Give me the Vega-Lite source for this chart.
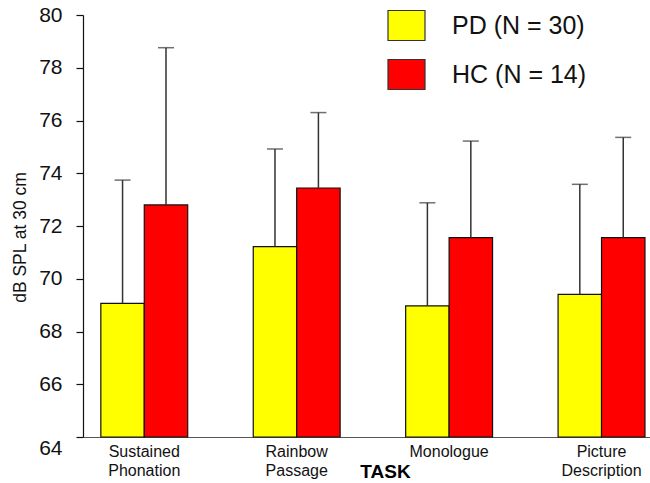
{
  "$schema": "https://vega.github.io/schema/vega-lite/v6.json",
  "autosize": "none",
  "padding": {"left": 83, "top": 15, "right": 0, "bottom": 46},
  "width": 567,
  "height": 422,
  "background": "white",
  "config": {
    "view": {"stroke": null},
    "font": "Liberation Sans"
  },
  "data": {
    "values": [
      {"task": "Sustained Phonation", "group": "PD (N = 30)", "mean": 69.07, "upper": 73.74},
      {"task": "Sustained Phonation", "group": "HC (N = 14)", "mean": 72.80, "upper": 78.76},
      {"task": "Rainbow Passage", "group": "PD (N = 30)", "mean": 71.22, "upper": 74.92},
      {"task": "Rainbow Passage", "group": "HC (N = 14)", "mean": 73.44, "upper": 76.30},
      {"task": "Monologue", "group": "PD (N = 30)", "mean": 68.97, "upper": 72.88},
      {"task": "Monologue", "group": "HC (N = 14)", "mean": 71.56, "upper": 75.22},
      {"task": "Picture Description", "group": "PD (N = 30)", "mean": 69.41, "upper": 73.58},
      {"task": "Picture Description", "group": "HC (N = 14)", "mean": 71.56, "upper": 75.36}
    ]
  },
  "encoding": {
    "x": {
      "field": "task",
      "type": "nominal",
      "sort": ["Sustained Phonation", "Rainbow Passage", "Monologue", "Picture Description"],
      "scale": {"paddingInner": 0.43, "paddingOuter": 0.075, "align": 0.78},
      "axis": {
        "title": "TASK",
        "titleFont": "Liberation Sans",
        "titleFontSize": 19,
        "titleFontWeight": "bold",
        "titleColor": "black",
        "titleX": 302,
        "titleY": 40,
        "titleAlign": "center",
        "titleBaseline": "alphabetic",
        "labelAngle": 0,
        "labelAlign": "center",
        "labelBaseline": "top",
        "labelFont": "Liberation Sans",
        "labelFontSize": 16,
        "labelLineHeight": 19,
        "labelColor": "#111",
        "labelPadding": 6,
        "labelExpr": "split(datum.label, ' ')",
        "ticks": false,
        "domainColor": "#555",
        "domainWidth": 1.2,
        "grid": false
      }
    },
    "xOffset": {
      "field": "group",
      "type": "nominal",
      "sort": ["PD (N = 30)", "HC (N = 14)"],
      "scale": {"paddingInner": 0, "paddingOuter": 0}
    }
  },
  "layer": [
    {
      "mark": {"type": "bar", "stroke": "#111", "strokeWidth": 1.2},
      "encoding": {
        "y": {
          "field": "mean",
          "type": "quantitative",
          "scale": {"domain": [64, 80], "nice": false, "zero": false},
          "axis": {
            "title": "dB SPL at 30 cm",
            "titleFont": "Liberation Sans",
            "titleFontSize": 17.5,
            "titleFontWeight": "normal",
            "titleColor": "#111",
            "titleX": -63,
            "titleY": 222,
            "titleAlign": "center",
            "titleBaseline": "middle",
            "titleAngle": -90,
            "values": [64, 66, 68, 70, 72, 74, 76, 78, 80],
            "labelFont": "Liberation Sans",
            "labelFontSize": 21,
            "labelColor": "#111",
            "labelPadding": 14,
            "labelBaseline": {"condition": {"test": "datum.value == 64", "value": "top"}, "value": "middle"},
            "tickSize": 7,
            "tickColor": "#111",
            "tickWidth": 1.2,
            "domainColor": "#111",
            "domainWidth": 1.2,
            "grid": false
          }
        },
        "y2": {"datum": 64},
        "color": {
          "field": "group",
          "type": "nominal",
          "sort": ["PD (N = 30)", "HC (N = 14)"],
          "scale": {"domain": ["PD (N = 30)", "HC (N = 14)"], "range": ["#ffff00", "#ff0000"]},
          "legend": {
            "title": null,
            "orient": "none",
            "legendX": 304,
            "legendY": -9,
            "padding": 0,
            "symbolType": "M-1,-0.81H1V0.81H-1Z",
            "symbolSize": 1369,
            "symbolStrokeColor": "#333",
            "symbolStrokeWidth": 1.2,
            "labelFont": "Liberation Sans",
            "labelFontSize": 25,
            "labelColor": "#111",
            "labelOffset": 26,
            "rowPadding": 12,
            "labelLimit": 300
          }
        }
      }
    },
    {
      "mark": {"type": "rule", "color": "#333", "strokeWidth": 1.5},
      "encoding": {
        "y": {"field": "mean", "type": "quantitative"},
        "y2": {"field": "upper"}
      }
    },
    {
      "mark": {"type": "tick", "color": "#333", "thickness": 1.5, "size": 16, "orient": "horizontal"},
      "encoding": {
        "y": {"field": "upper", "type": "quantitative"}
      }
    }
  ]
}
